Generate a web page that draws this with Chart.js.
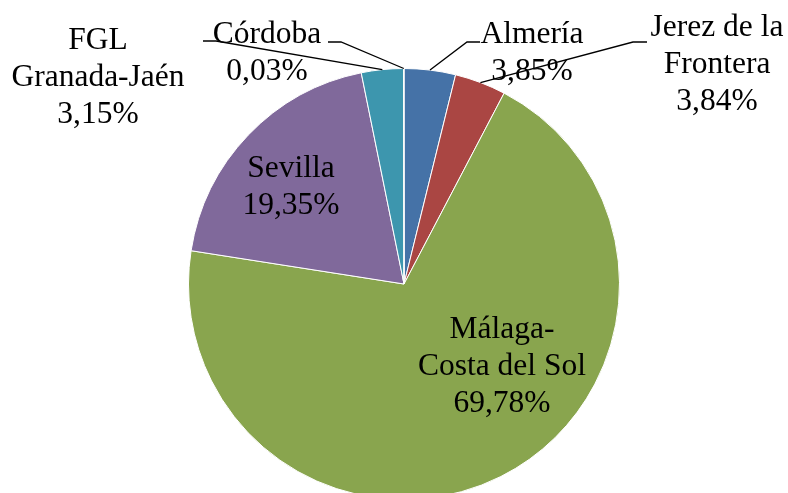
<!DOCTYPE html>
<html>
<head>
<meta charset="utf-8">
<script src="https://cdn.jsdelivr.net/npm/chart.js@4"></script>
<style>
  html, body { margin: 0; padding: 0; overflow: hidden; background: #fff; }
  canvas { display: block; }
</style>
</head>
<body>
<canvas id="pieChart" width="788" height="510"></canvas>
<script>
// categories (one entry per slice, split into text lines) and shares in %
const categories = [
  ['Almería'],
  ['Jerez de la', 'Frontera'],
  ['Málaga-', 'Costa del Sol'],
  ['Sevilla'],
  ['FGL', 'Granada-Jaén'],
  ['Córdoba']
];
const shares = [3.85, 3.84, 69.78, 19.35, 3.15, 0.03];
const sliceColors = ['#4572A7', '#AA4643', '#89A54E', '#80699B', '#3D96AE', '#DB843D'];

// where each label sits (centre x, first baseline y) and its leader line start
const labelLayout = [
  { x: 532, y: 43, leader: [[480, 42], [467, 42]] },
  { x: 717, y: 36, leader: [[647, 42], [633, 42]] },
  { x: 502, y: 338, leader: null },
  { x: 291, y: 177, leader: null },
  { x: 98, y: 49, leader: [[203, 41], [216, 41]] },
  { x: 267, y: 43, leader: [[328, 42], [341, 42]] }
];

const fmt = v => v.toFixed(2).replace('.', ',') + '%';

const labelPlugin = {
  id: 'pieLabels',
  afterDraw(chart) {
    const ctx = chart.ctx;
    const arcs = chart.getDatasetMeta(0).data;
    ctx.save();
    // leader lines to the outer middle of each slice
    ctx.strokeStyle = '#000';
    ctx.lineWidth = 1.3;
    arcs.forEach((arc, i) => {
      const lay = labelLayout[i];
      if (!lay.leader) return;
      const p = arc.getProps(['x', 'y', 'startAngle', 'endAngle', 'outerRadius'], true);
      const mid = (p.startAngle + p.endAngle) / 2;
      const ex = p.x + Math.cos(mid) * p.outerRadius;
      const ey = p.y + Math.sin(mid) * p.outerRadius;
      ctx.beginPath();
      ctx.moveTo(lay.leader[0][0], lay.leader[0][1]);
      ctx.lineTo(lay.leader[1][0], lay.leader[1][1]);
      ctx.lineTo(ex, ey);
      ctx.stroke();
    });
    // text
    ctx.fillStyle = '#000';
    ctx.font = '31.5px "Liberation Serif", "Times New Roman", serif';
    ctx.textAlign = 'center';
    ctx.textBaseline = 'alphabetic';
    categories.forEach((lines, i) => {
      const lay = labelLayout[i];
      const all = lines.concat([fmt(shares[i])]);
      all.forEach((t, k) => ctx.fillText(t, lay.x, lay.y + k * 37));
    });
    ctx.restore();
  }
};

new Chart('pieChart', {
  type: 'pie',
  data: {
    labels: categories,
    datasets: [{
      data: shares,
      backgroundColor: sliceColors,
      borderColor: '#fff',
      borderWidth: 1,
      clip: false
    }]
  },
  options: {
    responsive: false,
    animation: false,
    layout: { padding: { left: 188, right: 168, top: 68, bottom: 10 } },
    plugins: {
      legend: { display: false },
      tooltip: { enabled: false }
    }
  },
  plugins: [labelPlugin]
});
</script>
</body>
</html>
